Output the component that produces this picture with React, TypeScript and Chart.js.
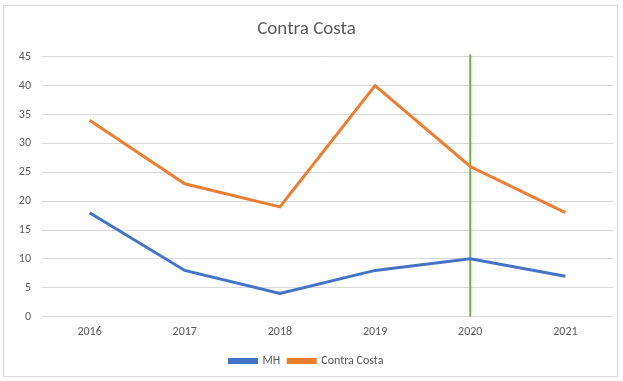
import React, { useEffect, useRef } from "react";
import { Chart, registerables } from "chart.js";

Chart.register(...registerables);

const years = ["2016", "2017", "2018", "2019", "2020", "2021"];
const mhValues = [18, 8, 4, 8, 10, 7];
const contraCostaValues = [34, 23, 19, 40, 26, 18];
const markerYear = "2020";
const markerRange = [0, 45.4];
const yTicks = { min: 0, max: 45, step: 5 };

const FONT = "Carlito, 'Liberation Sans Narrow', 'Open Sans', sans-serif";

export default function App() {
  const ref = useRef<HTMLCanvasElement | null>(null);

  useEffect(() => {
    document.body.style.margin = "0";
    const ctx = ref.current!.getContext("2d")!;
    const chart = new Chart(ctx, {
      type: "line",
      data: {
        labels: years,
        datasets: [
          {
            label: "MH",
            data: mhValues,
            borderColor: "#4472C4",
            backgroundColor: "#4472C4",
            borderWidth: 3,
            pointRadius: 0,
            tension: 0,
          },
          {
            label: "Contra Costa",
            data: contraCostaValues,
            borderColor: "#ED7D31",
            backgroundColor: "#ED7D31",
            borderWidth: 3,
            pointRadius: 0,
            tension: 0,
          },
          {
            label: "marker",
            data: markerRange.map((v) => ({ x: markerYear, y: v })) as any,
            borderColor: "#70AD47",
            backgroundColor: "#70AD47",
            borderWidth: 2,
            pointRadius: 0,
            clip: false as any,
          },
        ],
      },
      options: {
        animation: false,
        responsive: false,
        maintainAspectRatio: false,
        layout: { padding: { left: 0, right: 10, top: 6, bottom: 4 } },
        plugins: {
          title: {
            display: true,
            text: "Contra Costa",
            color: "#595959",
            font: { family: FONT, size: 19, weight: "normal" },
            padding: { top: 12, bottom: 16 },
          },
          legend: {
            position: "bottom",
            labels: {
              filter: (item) => item.text !== "marker",
              boxWidth: 27,
              boxHeight: 3,
              color: "#595959",
              font: { family: FONT, size: 12 },
              padding: 8,
            },
          },
          tooltip: { enabled: false },
        },
        scales: {
          x: {
            offset: true,
            grid: { display: false, drawTicks: false },
            border: { display: false },
            ticks: {
              color: "#595959",
              font: { family: FONT, size: 12 },
              padding: 8,
            },
          },
          y: {
            min: yTicks.min,
            max: yTicks.max,
            afterFit: (scale: any) => {
              scale.width = 42;
            },
            grid: { color: "#d9d9d9", drawTicks: false, lineWidth: 1 },
            border: { display: false },
            ticks: {
              stepSize: yTicks.step,
              color: "#595959",
              font: { family: FONT, size: 12 },
              padding: 11,
            },
          },
        },
      },
    });
    return () => chart.destroy();
  }, []);

  return (
    <div
      style={{
        position: "relative",
        width: 623,
        height: 381,
        background: "#fff",
      }}
    >
      <div
        style={{
          position: "absolute",
          left: 3,
          top: 5,
          width: 615,
          height: 372,
          border: "1px solid #d9d9d9",
          boxSizing: "border-box",
        }}
      />
      <canvas
        ref={ref}
        width={623}
        height={381}
        style={{ position: "absolute", left: 0, top: 0 }}
      />
    </div>
  );
}
